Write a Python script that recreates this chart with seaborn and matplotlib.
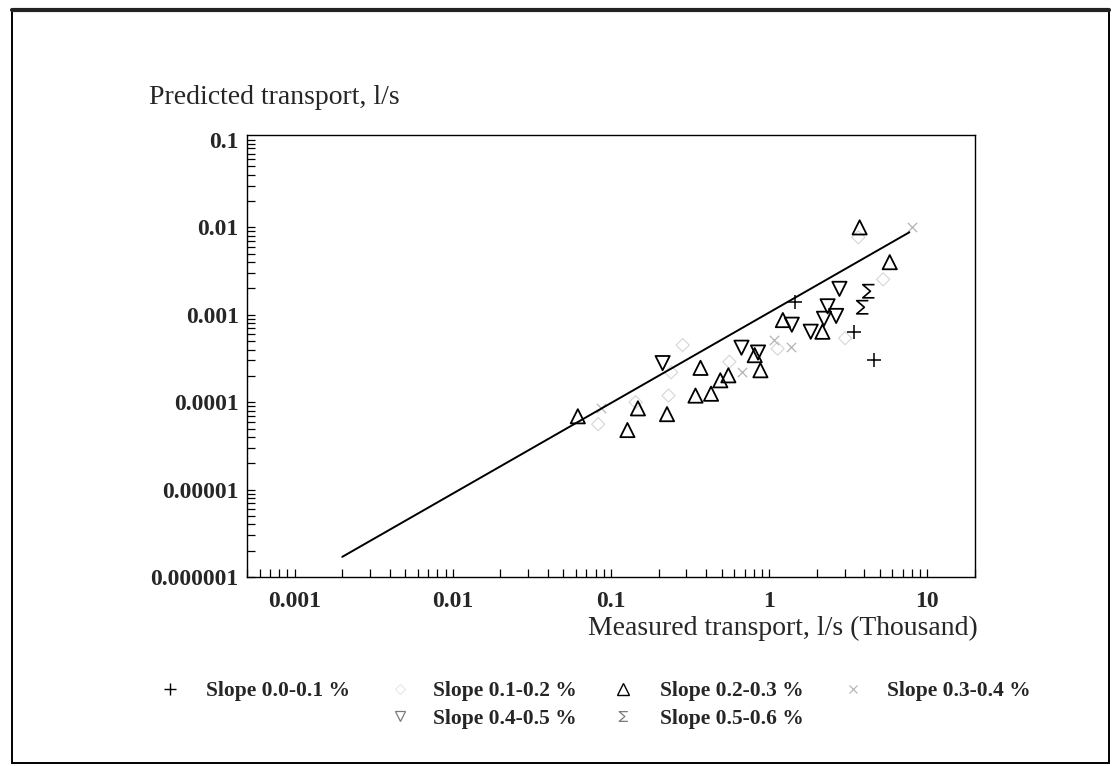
import matplotlib
matplotlib.use("Agg")
import matplotlib.pyplot as plt
from matplotlib.path import Path
from matplotlib.lines import Line2D
from matplotlib.patches import Rectangle
from matplotlib.ticker import FixedLocator, FixedFormatter, LogLocator, NullFormatter
import seaborn as sns

# ---- data: measured transport (thousand l/s) vs predicted transport (l/s) ----
series_names = ["Slope 0.0-0.1 %", "Slope 0.1-0.2 %", "Slope 0.2-0.3 %",
                "Slope 0.3-0.4 %", "Slope 0.4-0.5 %", "Slope 0.5-0.6 %"]

slope_00_01_x = [1.45, 3.46, 4.58]
slope_00_01_y = [1.4e-3, 6.3e-4, 3.0e-4]

slope_01_02_x = [0.083, 0.143, 0.231, 0.24, 0.284, 0.56, 1.13, 3.02, 3.66, 5.25]
slope_01_02_y = [5.6e-5, 1.0e-4, 1.19e-4, 2.2e-4, 4.5e-4, 2.9e-4, 4.1e-4, 5.4e-4, 7.7e-3, 2.54e-3]

slope_02_03_x = [0.0617, 0.127, 0.148, 0.226, 0.342, 0.429, 0.368, 0.491, 0.552,
                 0.81, 0.88, 1.22, 2.17, 3.73, 5.78]
slope_02_03_y = [6.9e-5, 4.8e-5, 8.5e-5, 7.3e-5, 1.19e-4, 1.25e-4, 2.47e-4, 1.78e-4,
                 2.03e-4, 3.45e-4, 2.32e-4, 8.7e-4, 6.4e-4, 1.0e-2, 4.0e-3]

slope_03_04_x = [0.086, 0.67, 1.08, 1.37, 8.0]
slope_03_04_y = [8.5e-5, 2.2e-4, 5.1e-4, 4.3e-4, 1.0e-2]

slope_04_05_x = [0.212, 0.668, 0.85, 1.39, 1.83, 2.22, 2.34, 2.65, 2.78]
slope_04_05_y = [2.8e-4, 4.2e-4, 3.7e-4, 7.7e-4, 6.4e-4, 9.0e-4, 1.25e-3, 9.7e-4, 1.98e-3]

slope_05_06_x = [4.25, 3.89]
slope_05_06_y = [1.86e-3, 1.22e-3]

# reference line
line_x = [0.002, 7.7]
line_y = [1.7e-6, 0.0088]

x_ticks = [0.001, 0.01, 0.1, 1, 10]
x_tick_labels = ["0.001", "0.01", "0.1", "1", "10"]
y_ticks = [1e-6, 1e-5, 1e-4, 1e-3, 1e-2, 1e-1]
y_tick_labels = ["0.000001", "0.00001", "0.0001", "0.001", "0.01", "0.1"]

x_title = "Measured transport, l/s (Thousand)"
y_title = "Predicted transport, l/s"

# ---- styling ----
sns.set_style("ticks")
plt.rcParams["font.family"] = ["Liberation Serif", "DejaVu Serif"]

W, H = 1112, 766
fig = plt.figure(figsize=(W / 100, H / 100), dpi=100)
fig.patch.set_facecolor("white")

# axes box in pixel coordinates
L, R, T, B = 247, 975, 135, 577
ax = fig.add_axes([L / W, (H - B) / H, (R - L) / W, (B - T) / H])
ax.set_xscale("log")
ax.set_yscale("log")

# open "sigma" marker
sigma = Path([(0.8, 0.9), (-0.8, 0.9), (0.25, 0.0), (-0.8, -0.9), (0.8, -0.9)],
             [Path.MOVETO, Path.LINETO, Path.LINETO, Path.LINETO, Path.LINETO])

sns.lineplot(x=line_x, y=line_y, color="black", linewidth=1.4, ax=ax)

sns.scatterplot(x=slope_01_02_x, y=slope_01_02_y, marker="D", s=45, color="#d6d6d6",
                facecolors="none", edgecolor="#d6d6d6", linewidth=0.8, ax=ax)
sns.scatterplot(x=slope_03_04_x, y=slope_03_04_y, marker="x", s=45, color="#b4b4b4",
                linewidth=0.9, ax=ax)
sns.scatterplot(x=slope_00_01_x, y=slope_00_01_y, marker="+", s=95, color="black",
                linewidth=1.1, ax=ax)
sns.scatterplot(x=slope_02_03_x, y=slope_02_03_y, marker="^", s=105, color="black",
                facecolors="none", edgecolor="black", linewidth=1.3, ax=ax)
sns.scatterplot(x=slope_04_05_x, y=slope_04_05_y, marker="v", s=105, color="black",
                facecolors="none", edgecolor="black", linewidth=1.3, ax=ax)
sns.scatterplot(x=slope_05_06_x, y=slope_05_06_y, marker=sigma, s=90, color="black",
                facecolors="none", edgecolor="black", linewidth=1.2, ax=ax)

ax.set_xlim(5.0e-4, 20)
ax.set_ylim(1e-6, 0.114)

ax.xaxis.set_major_locator(FixedLocator(x_ticks))
ax.xaxis.set_major_formatter(FixedFormatter(x_tick_labels))
ax.xaxis.set_minor_locator(LogLocator(base=10, subs=range(2, 10), numticks=20))
ax.xaxis.set_minor_formatter(NullFormatter())
ax.yaxis.set_major_locator(FixedLocator(y_ticks))
ax.yaxis.set_major_formatter(FixedFormatter(y_tick_labels))
ax.yaxis.set_minor_locator(LogLocator(base=10, subs=range(2, 10), numticks=20))
ax.yaxis.set_minor_formatter(NullFormatter())

ax.tick_params(axis="x", which="both", direction="in", length=6, width=0.9,
               color="black", pad=10, labelsize=17, top=False)
ax.tick_params(axis="y", which="both", direction="in", length=5.5, width=0.9,
               color="black", pad=6, labelsize=17, right=False)
for lab in ax.get_xticklabels() + ax.get_yticklabels():
    lab.set_fontweight("bold")

for sp in ax.spines.values():
    sp.set_visible(True)
    sp.set_color("black")
    sp.set_linewidth(1.0)
ax.set_xlabel("")
ax.set_ylabel("")

fig.text(149 / W, 1 - 98 / H, y_title, fontsize=20, ha="left", va="center")
fig.text(978 / W, 1 - 628 / H, x_title, fontsize=20, ha="right", va="center")

# ---- legend, laid out in four columns ----
def handle(marker, color, ms, mew, mfc="none"):
    return Line2D([], [], linestyle="none", marker=marker, color=color,
                  markerfacecolor=mfc, markeredgecolor=color,
                  markersize=ms, markeredgewidth=mew)

h_plus = handle("+", "black", 9, 1.0)
h_diam = handle("D", "#e6e6e6", 5, 0.8)
h_up = handle("^", "black", 8, 1.0)
h_x = handle("x", "#b8b8b8", 6, 0.9)
h_down = handle("v", "#7a7a7a", 7, 0.9)
h_sig = handle(sigma, "#7a7a7a", 7, 0.9)

leg_kw = dict(frameon=False, prop={"weight": "bold", "size": 15.5},
              handlelength=1.0, labelspacing=0.35, borderpad=0, borderaxespad=0,
              loc="upper left")
row_top = 1 - 681 / H
columns = [
    ([h_plus], [series_names[0]], 159, 1.19),
    ([h_diam, h_down], [series_names[1], series_names[4]], 389, 1.05),
    ([h_up, h_sig], [series_names[2], series_names[5]], 612, 1.23),
    ([h_x], [series_names[3]], 842, 1.09),
]
for hs, labs, xpix, tp in columns:
    fig.legend(hs, labs, bbox_to_anchor=(xpix / W, row_top),
               handletextpad=tp, **leg_kw)

# outer border of the sheet
fig.patches.append(Rectangle((12 / W, 3 / H), 1097 / W, 753 / H,
                             transform=fig.transFigure, fill=False,
                             edgecolor="black", linewidth=1.4))
fig.lines.append(Line2D([12 / W, 1109 / W], [756 / H, 756 / H],
                        transform=fig.transFigure, color="#222222", linewidth=3.0))

fig.savefig("out.png", dpi=100, facecolor="white")
